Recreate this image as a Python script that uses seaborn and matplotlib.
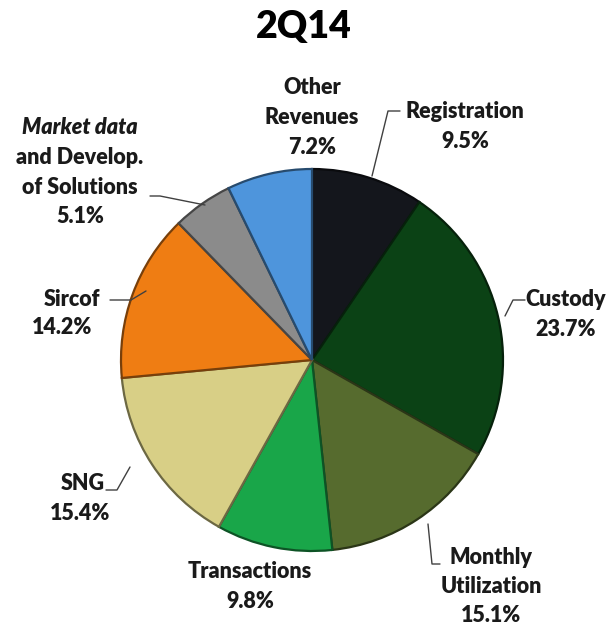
import numpy as np
import seaborn as sns
import matplotlib.pyplot as plt
from matplotlib.colors import to_rgb

# dados do grafico (2Q14)
categorias = ["Registration", "Custody", "Monthly\nUtilization", "Transactions",
              "SNG", "Sircof", "Market data\nand Develop.\nof Solutions", "Other\nRevenues"]
valores = [9.5, 23.7, 15.1, 9.8, 15.4, 14.2, 5.1, 7.2]
cores = ["#14161c", "#0b4215", "#566b2e", "#19a649",
         "#d8cf86", "#ef7d13", "#8b8b8b", "#4e95dc"]
titulo = "2Q14"

sns.set_theme(style="white")
plt.rcParams['font.family'] = ['Lato', 'DejaVu Sans']

W, H = 612, 628
fig = plt.figure(figsize=(W / 100, H / 100), dpi=100)
ax = fig.add_axes([0, 0, 1, 1])

def Y(y):
    # coordenada em pixels medida a partir do topo
    return H - y

def escurecer(c, f=0.6):
    r, g, b = to_rgb(c)
    return (r * f, g * f, b * f)

cx, cy, raio = 312, Y(360), 191
wedges, _ = ax.pie(valores, colors=cores, startangle=90, counterclock=False,
                   center=(cx, cy), radius=raio, frame=True,
                   wedgeprops=dict(linewidth=1.6))
for w, c in zip(wedges, cores):
    w.set_edgecolor(escurecer(c, 0.5))

ax.set_xlim(0, W)
ax.set_ylim(0, H)
ax.set_aspect('equal')
ax.axis('off')

ax.text(304, Y(27), titulo, ha='center', va='center', fontsize=27, fontweight='heavy', color='black')

fs = 15.5
lh = 29.5
cor_txt = '#1a1a1a'

def rotulo(x, y, linhas, ha='center', estilos=None):
    for i, t in enumerate(linhas):
        st = 'normal'
        if estilos is not None:
            st = estilos[i]
        ax.text(x, Y(y + i * lh), t, ha=ha, va='center', fontsize=fs,
                fontweight='heavy', style=st, color=cor_txt)

pct = [f"{v:.1f}%" for v in valores]

rotulo(312, 88, ["Other", "Revenues", pct[7]])
rotulo(465, 112, ["Registration", pct[0]])
rotulo(566, 300, ["Custody", pct[1]])
rotulo(491, 557, ["Monthly", "Utilization", pct[2]])
rotulo(250, 572, ["Transactions", pct[3]])
rotulo(80, 128, ["Market data", "and Develop.", "of Solutions", pct[6]],
       estilos=['italic', 'normal', 'normal', 'normal'])
ax.text(83, Y(484), "SNG", ha='center', va='center', fontsize=fs, fontweight='heavy', color=cor_txt)
ax.text(80, Y(514), pct[4], ha='center', va='center', fontsize=fs, fontweight='heavy', color=cor_txt)
ax.text(72, Y(299), "Sircof", ha='center', va='center', fontsize=fs, fontweight='heavy', color=cor_txt)
ax.text(62, Y(328), pct[5], ha='center', va='center', fontsize=fs, fontweight='heavy', color=cor_txt)

# linhas de chamada
linhas = [
    [(372, 176), (388, 111), (400, 111)],
    [(505, 316), (513, 300), (525, 300)],
    [(428, 524), (432, 564), (440, 564)],
    [(130, 467), (117, 490), (106, 490)],
    [(146, 291), (131, 300), (110, 300)],
    [(205, 205), (160, 196), (150, 196)],
]
for pts in linhas:
    xs = [p[0] for p in pts]
    ys = [Y(p[1]) for p in pts]
    ax.plot(xs, ys, color='#404040', linewidth=1)

fig.savefig('out.png', dpi=100, facecolor='white')
